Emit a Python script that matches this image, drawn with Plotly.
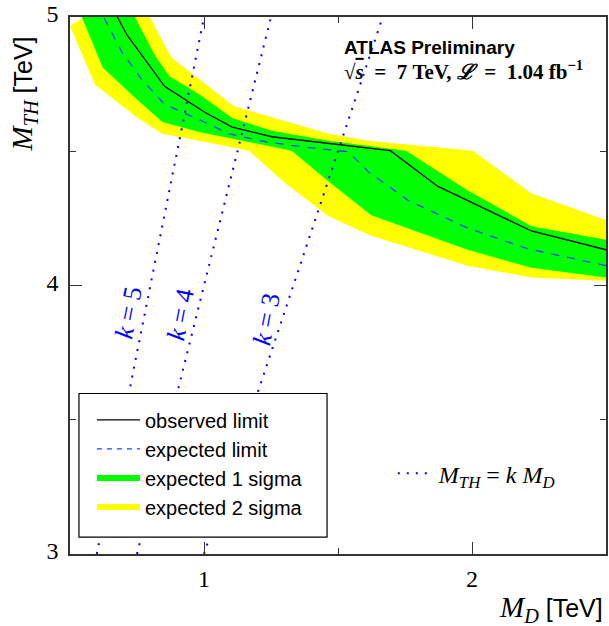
import plotly.graph_objects as go

# ---------------- data ----------------
obs_x = [0.65, 0.712, 0.853, 1.001, 1.105, 1.253, 1.695, 1.873, 2.222, 2.5]
obs_y = [5.05, 4.934, 4.742, 4.646, 4.590, 4.554, 4.502, 4.369, 4.203, 4.133]

exp_x = [0.600, 0.693, 0.767, 0.853, 1.001, 1.094, 1.231, 1.365, 1.539, 1.613, 1.762, 1.984, 2.207, 2.5]
exp_y = [5.048, 4.871, 4.768, 4.675, 4.609, 4.565, 4.535, 4.517, 4.498, 4.424, 4.317, 4.214, 4.137, 4.074]

s1_up_x = [0.686, 0.741, 0.815, 0.871, 0.982, 1.105, 1.253, 1.465, 1.754, 1.984, 2.222, 2.5]
s1_up_y = [5.107, 5.000, 4.860, 4.779, 4.712, 4.624, 4.576, 4.539, 4.502, 4.354, 4.221, 4.170]
s1_dn_x = [0.5, 0.545, 0.622, 0.749, 0.845, 0.982, 1.327, 1.465, 1.624, 1.984, 2.222, 2.5]
s1_dn_y = [5.107, 5.000, 4.812, 4.694, 4.609, 4.572, 4.502, 4.387, 4.262, 4.133, 4.066, 4.030]

s2_up_x = [0.737, 0.797, 0.878, 1.112, 1.465, 1.613, 2.003, 2.222, 2.5]
s2_up_y = [5.107, 5.000, 4.849, 4.668, 4.565, 4.539, 4.502, 4.343, 4.244]
s2_dn_x = [0.5, 0.593, 0.749, 0.845, 1.001, 1.168, 1.305, 1.465, 1.624, 1.984, 2.222, 2.5]
s2_dn_y = [4.967, 4.749, 4.627, 4.565, 4.535, 4.502, 4.380, 4.258, 4.185, 4.074, 4.030, 4.018]

k_values = [5, 4, 3]
k_label_x = [0.718, 0.912, 1.232]
k_label_y = [3.90, 3.893, 3.875]
mth_range = [3.0, 5.0]

x_range = [0.5, 2.5]
y_range = [3.0, 5.0]
x_major = [1, 2]
x_minor = [1.5]
y_major = [3, 4, 5]
y_minor = [3.5, 4.5]

# ---------------- figure ----------------
YELLOW = "#ffff00"
GREEN = "#00ff00"
BLUE = "#0000ff"
DBLUE = "#2040ff"
SERIF = "Liberation Serif"
SANS = "Liberation Sans"
SP = "&nbsp;"

fig = go.Figure()

fig.add_trace(go.Scatter(
    x=s2_up_x + s2_dn_x[::-1], y=s2_up_y + s2_dn_y[::-1],
    fill="toself", fillcolor=YELLOW, line=dict(width=0), mode="lines",
    showlegend=False, hoverinfo="skip"))
fig.add_trace(go.Scatter(
    x=s1_up_x + s1_dn_x[::-1], y=s1_up_y + s1_dn_y[::-1],
    fill="toself", fillcolor=GREEN, line=dict(width=0), mode="lines",
    showlegend=False, hoverinfo="skip"))
fig.add_trace(go.Scatter(x=exp_x, y=exp_y, mode="lines",
                         line=dict(color=DBLUE, width=1.3, dash="8px,8px"),
                         showlegend=False))
fig.add_trace(go.Scatter(x=obs_x, y=obs_y, mode="lines",
                         line=dict(color="black", width=1.3),
                         showlegend=False))

for i, k in enumerate(k_values):
    fig.add_trace(go.Scatter(
        x=[m / k for m in mth_range], y=mth_range, mode="lines",
        line=dict(color=BLUE, width=2, dash="2px,7px"),
        showlegend=(i == 0), legend="legend2",
        name=f"<i>M</i><sub><i>TH</i></sub>{SP}={SP}<i>k</i>{SP}<i>M</i><sub><i>D</i></sub>"))
    fig.add_annotation(x=k_label_x[i], y=k_label_y[i], text=f"<i>k</i>{SP}={SP}{k}",
                       showarrow=False, textangle=-78.7,
                       font=dict(family=SERIF, size=26, color=BLUE))

# legend-only entries
fig.add_trace(go.Scatter(x=[None], y=[None], mode="lines", name="observed limit",
                         line=dict(color="black", width=1.3), legendgroup="a"))
fig.add_trace(go.Scatter(x=[None], y=[None], mode="lines", name="expected limit",
                         line=dict(color=DBLUE, width=1.3, dash="5px,5px"), legendgroup="b"))
fig.add_trace(go.Scatter(x=[None], y=[None], mode="lines", name="expected 1 sigma",
                         line=dict(color=GREEN, width=6), legendgroup="c"))
fig.add_trace(go.Scatter(x=[None], y=[None], mode="lines", name="expected 2 sigma",
                         line=dict(color=YELLOW, width=6), legendgroup="d"))

W, H = 609, 626
ML, MR, MT, MB = 70, 1, 12, 72
pw, ph = W - ML - MR, H - MT - MB

def px(xp):
    return (xp - ML) / pw

def py(yp):
    return (H - MB - yp) / ph

fig.add_shape(type="rect", xref="paper", yref="paper",
              x0=px(79), x1=px(328), y0=py(537), y1=py(392),
              fillcolor="white", line=dict(color="black", width=1.2), layer="above")

axis_common = dict(showgrid=False, zeroline=False, showline=True, linecolor="#333",
                   linewidth=1.5, mirror="ticks", ticks="inside", ticklen=12,
                   tickwidth=1.2, tickcolor="#333", ticklabeloverflow="allow",
                   tickfont=dict(family=SERIF, size=24, color="black"))

fig.update_xaxes(range=x_range, tickvals=x_major, ticklabelstandoff=2,
                 minor=dict(tickvals=x_minor, ticks="inside", ticklen=6,
                            tickwidth=1.2, tickcolor="#333"),
                 **axis_common)
fig.update_yaxes(range=y_range, tickvals=y_major, ticklabelstandoff=5, ticklabelshift=-3,
                 minor=dict(tickvals=y_minor, ticks="inside", ticklen=6,
                            tickwidth=1.2, tickcolor="#333"),
                 **axis_common)

# axis titles
fig.add_annotation(xref="paper", yref="paper", x=0, y=1, xshift=-47, yshift=-18,
                   xanchor="center", yanchor="top", textangle=-90, showarrow=False,
                   text=f"<span style='font-family:{SERIF};font-size:29px'><i>M</i><sub><i>TH</i></sub></span> [TeV]",
                   font=dict(family=SANS, size=25, color="black"))
fig.add_annotation(xref="paper", yref="paper", x=1, y=0, yshift=-35, xshift=-1,
                   xanchor="right", yanchor="top", showarrow=False,
                   text=f"<span style='font-family:{SERIF};font-size:29px'><i>M</i><sub><i>D</i></sub></span> [TeV]",
                   font=dict(family=SANS, size=25, color="black"))

# ATLAS label
fig.add_annotation(xref="paper", yref="paper", x=px(343), y=py(43),
                   xanchor="left", yanchor="middle", showarrow=False,
                   text="<b>ATLAS Preliminary</b>",
                   font=dict(family=SANS, size=19, color="black"))
fig.add_annotation(xref="paper", yref="paper", x=px(343), y=py(66),
                   xanchor="left", yanchor="middle", showarrow=False,
                   text=(f"<b>√<span style='text-decoration:overline'><i>s</i></span>{SP}{SP}={SP}{SP}7{SP}TeV,"
                         f"{SP}<i>ℒ</i>{SP}{SP}={SP}{SP}1.04{SP}fb<sup>−1</sup></b>"),
                   font=dict(family=SERIF, size=21, color="black"))

fig.update_layout(
    width=W, height=H, margin=dict(l=ML, r=MR, t=MT, b=MB),
    paper_bgcolor="white", plot_bgcolor="white",
    legend=dict(x=px(92), y=py(399), xanchor="left", yanchor="top",
                bgcolor="rgba(0,0,0,0)", borderwidth=0,
                font=dict(family=SANS, size=20, color="black"),
                tracegroupgap=4, itemwidth=43, traceorder="normal"),
    legend2=dict(x=px(394), y=py(473), xanchor="left", yanchor="middle",
                 bgcolor="rgba(0,0,0,0)", borderwidth=0,
                 font=dict(family=SERIF, size=24, color="black"), itemwidth=36),
)

fig.write_html("out.html")
